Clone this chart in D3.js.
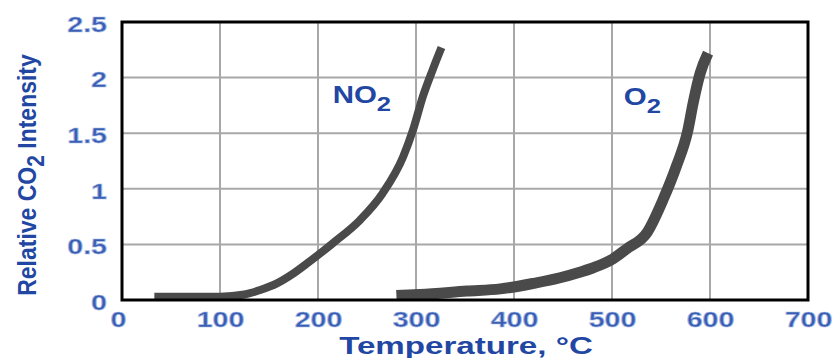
<!DOCTYPE html>
<html><head><meta charset="utf-8">
<script src="https://cdn.jsdelivr.net/npm/d3@7"></script>
<style>html,body{margin:0;padding:0;background:#fff;}svg{display:block;}</style>
</head><body>
<svg id="chart" width="840" height="358"></svg>
<script>
const xTicks = [0, 100, 200, 300, 400, 500, 600, 700];
const yTicks = [0, 0.5, 1, 1.5, 2, 2.5];
const yTickLabels = ["0", "0.5", "1", "1.5", "2", "2.5"];

const no2Temp = [33, 60, 100, 125, 141, 158, 175, 189, 215, 243, 266, 287, 297, 307, 317, 326];
const no2Val  = [0.03, 0.03, 0.03, 0.05, 0.09, 0.15, 0.24, 0.33, 0.51, 0.72, 0.96, 1.29, 1.53, 1.83, 2.07, 2.27];

const o2Temp = [280, 304, 352, 386, 420, 447, 467, 481, 501, 515, 536, 552, 566, 577, 583, 590, 598];
const o2Val  = [0.04, 0.05, 0.08, 0.1, 0.15, 0.2, 0.25, 0.29, 0.37, 0.46, 0.61, 0.9, 1.21, 1.51, 1.78, 2.04, 2.22];

const svg = d3.select("#chart");
const mLeft = 122, mRight = 808, mTop = 22, mBottom = 300;
const x = d3.scaleLinear().domain([0, 700]).range([mLeft, mRight]);
const y = d3.scaleLinear().domain([0, 2.5]).range([mBottom, mTop]);

const blue = "#2247a3";
const tickBlue = "#3a5db4";
const font = "Liberation Sans, Arial, sans-serif";

// grid
svg.append("g").selectAll("line").data(xTicks.slice(1, -1)).join("line")
  .attr("x1", d => x(d)).attr("x2", d => x(d)).attr("y1", mTop).attr("y2", mBottom)
  .attr("stroke", "#a8a8a8").attr("stroke-width", 2);
svg.append("g").selectAll("line").data(yTicks.slice(1, -1)).join("line")
  .attr("y1", d => y(d)).attr("y2", d => y(d)).attr("x1", mLeft).attr("x2", mRight)
  .attr("stroke", "#a8a8a8").attr("stroke-width", 2);

// curves
const line = d3.line().x(d => x(d[0])).y(d => y(d[1])).curve(d3.curveMonotoneX);
const no2 = no2Temp.map((t, i) => [t, no2Val[i]]);
const o2 = o2Temp.map((t, i) => [t, o2Val[i]]);
svg.append("path").datum(no2).attr("d", line).attr("fill", "none")
  .attr("stroke", "#4a4a4a").attr("stroke-width", 8).attr("stroke-linecap", "butt")
  .attr("stroke-linejoin", "round");
svg.append("path").datum(o2).attr("d", line).attr("fill", "none")
  .attr("stroke", "#4a4a4a").attr("stroke-width", 11).attr("stroke-linecap", "butt")
  .attr("stroke-linejoin", "round");

// frame
svg.append("rect").attr("x", mLeft).attr("y", mTop).attr("width", mRight - mLeft).attr("height", mBottom - mTop)
  .attr("fill", "none").attr("stroke", "#000").attr("stroke-width", 3);

// axes (tick labels)
const xAxis = d3.axisBottom(x).tickValues(xTicks).tickSize(0).tickPadding(0);
const gx = svg.append("g").attr("transform", `translate(0,${mBottom})`).call(xAxis);
gx.select(".domain").remove();
gx.selectAll("text").attr("dy", null).attr("y", 0).attr("transform", "translate(0,27) scale(1.3,1)")
  .attr("font-family", font).attr("font-size", 22).attr("font-weight", "bold")
  .attr("fill", tickBlue).attr("stroke", "#a9bde4").attr("stroke-width", 0.7);
gx.selectAll(".tick").filter(d => d === 0).select("text").attr("transform", "translate(-4,27) scale(1.3,1)");

const yAxis = d3.axisLeft(y).tickValues(yTicks).tickFormat((d, i) => yTickLabels[i]).tickSize(0).tickPadding(0);
const gy = svg.append("g").attr("transform", `translate(${mLeft - 15},0)`).call(yAxis);
gy.select(".domain").remove();
gy.selectAll("text").attr("dy", "0.42em").attr("x", 0).attr("transform", "scale(1.3,1)")
  .attr("font-family", font).attr("font-size", 22).attr("font-weight", "bold")
  .attr("fill", tickBlue).attr("stroke", "#a9bde4").attr("stroke-width", 0.7);

// axis titles
svg.append("text").attr("transform", "translate(466,354) scale(1.38,1)").attr("text-anchor", "middle")
  .attr("font-family", font).attr("font-size", 24).attr("font-weight", "bold")
  .attr("fill", blue).text("Temperature, °C");

const yt = svg.append("text").attr("transform", "translate(36,175) scale(1.15,1) rotate(-90)").attr("text-anchor", "middle")
  .attr("font-family", font).attr("font-size", 23)
  .attr("font-weight", "bold").attr("fill", blue);
yt.append("tspan").text("Relative CO");
yt.append("tspan").attr("dy", 7).attr("font-size", 21).text("2");
yt.append("tspan").attr("dy", -7).text(" Intensity");

// series labels
function label(px, py, base) {
  const t = svg.append("text").attr("transform", `translate(${px},${py}) scale(1.28,1)`)
    .attr("font-family", font).attr("font-size", 23).attr("font-weight", "bold")
    .attr("fill", blue);
  t.append("tspan").text(base);
  t.append("tspan").attr("dy", 8).attr("font-size", 20).text("2");
}
label(x(215), y(1.77), "NO");
label(x(512), y(1.75), "O");
</script>
</body></html>
